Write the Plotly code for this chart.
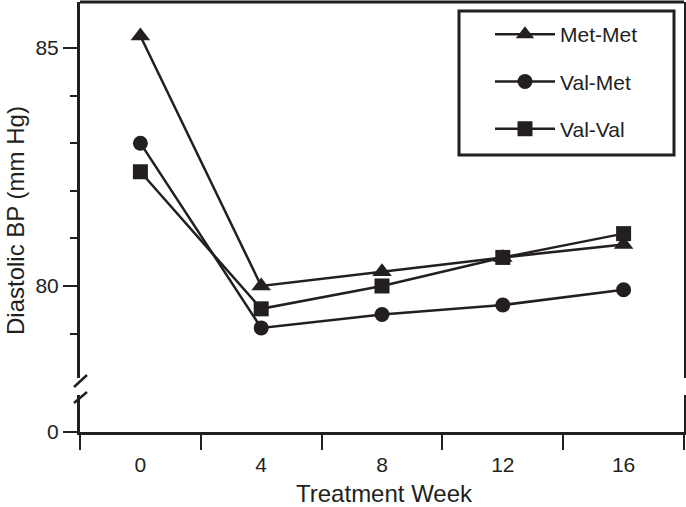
import plotly.graph_objects as go

weeks = [0, 4, 8, 12, 16]
met_met = [85.25, 80.0, 80.3, 80.6, 80.87]
val_met = [83.0, 79.12, 79.4, 79.6, 79.92]
val_val = [82.4, 79.52, 80.0, 80.6, 81.1]
series_names = ["Met-Met", "Val-Met", "Val-Val"]
x_tick_labels = ["0", "4", "8", "12", "16"]

INK = "#231f20"
FONT = "Liberation Sans, Arial, sans-serif"

W, H = 686, 507
ml, mr, mt, mb = 80, 2, 2, 75
pw, ph = W - ml - mr, H - mt - mb


def px_x(p):
    return (p - ml) / pw


def px_y(p):
    return (H - mb - p) / ph


fig = go.Figure()
# empty trace so the lower (broken-axis) subplot exists
fig.add_trace(go.Scatter(x=[], y=[], xaxis="x", yaxis="y", showlegend=False,
                         hoverinfo="skip"))
symbols = ["triangle-up", "circle", "square"]
sizes = [17, 15, 15]
for i, (name, vals) in enumerate(zip(series_names, [met_met, val_met, val_val])):
    fig.add_trace(go.Scatter(
        x=weeks, y=vals, name=name, mode="lines+markers",
        xaxis="x", yaxis="y2", legendgroup=name,
        line=dict(color=INK, width=2.5),
        marker=dict(symbol=symbols[i], size=sizes[i], color=INK),
    ))

upper_bottom = px_y(378)
lower_top = px_y(395)

fig.update_layout(
    width=W, height=H,
    margin=dict(l=ml, r=mr, t=mt, b=mb, autoexpand=False),
    paper_bgcolor="white", plot_bgcolor="white",
    font=dict(family=FONT, color=INK, size=21),
    showlegend=True,
    legend=dict(
        x=px_x(490), y=px_y(14), xanchor="left", yanchor="top",
        borderwidth=0, bgcolor="rgba(0,0,0,0)",
        font=dict(size=21, family=FONT, color=INK),
        itemwidth=60, tracegroupgap=17, traceorder="grouped",
    ),
    xaxis=dict(
        range=[-2, 18], tickmode="array", tickvals=weeks, ticktext=x_tick_labels,
        ticks="", showgrid=False, zeroline=False,
        showline=True, linecolor=INK, linewidth=3,
        anchor="y", ticklabelstandoff=12, automargin=False,
        tickfont=dict(size=21),
        minor=dict(tickmode="array", tickvals=[-2, 2, 6, 10, 14, 18],
                   ticks="outside", ticklen=15, tickwidth=2, tickcolor=INK),
    ),
    yaxis=dict(
        domain=[0, lower_top], range=[0, 1],
        tickmode="array", tickvals=[0], ticktext=["0"],
        ticks="outside", ticklen=14, tickwidth=2, tickcolor=INK,
        showgrid=False, zeroline=False, automargin=False,
        showline=True, linecolor=INK, linewidth=3, mirror=True,
        anchor="x", tickfont=dict(size=21),
    ),
    yaxis2=dict(
        domain=[upper_bottom, 1], range=[78.067, 85.966],
        tickmode="array", tickvals=[80, 85], ticktext=["80", "85"],
        ticks="outside", ticklen=14, tickwidth=2, tickcolor=INK,
        minor=dict(dtick=1, tick0=0, ticks="outside", ticklen=7, tickwidth=2, tickcolor=INK),
        showgrid=False, zeroline=False, automargin=False,
        showline=True, linecolor=INK, linewidth=3, mirror=True,
        anchor="x", tickfont=dict(size=21),
    ),
    annotations=[
        dict(text="Diastolic BP (mm Hg)", xref="paper", yref="paper",
             x=px_x(15), y=px_y(221), textangle=-90, showarrow=False,
             xanchor="center", yanchor="middle", font=dict(size=24, family=FONT, color=INK)),
        dict(text="Treatment Week", xref="paper", yref="paper",
             x=px_x(384), y=px_y(493), showarrow=False,
             xanchor="center", yanchor="middle", font=dict(size=24, family=FONT, color=INK)),
    ],
    shapes=[
        # top border
        dict(type="line", xref="paper", yref="paper", x0=0, x1=1, y0=1, y1=1,
             line=dict(color=INK, width=3)),
        # break marks on left axis
        dict(type="line", xref="paper", yref="paper", x0=px_x(74), y0=px_y(387),
             x1=px_x(87), y1=px_y(375), line=dict(color=INK, width=2.5)),
        dict(type="line", xref="paper", yref="paper", x0=px_x(74), y0=px_y(403),
             x1=px_x(87), y1=px_y(392), line=dict(color=INK, width=2.5)),
        # legend frame
        dict(type="rect", xref="paper", yref="paper", x0=px_x(459), x1=px_x(674),
             y0=px_y(155), y1=px_y(11), line=dict(color=INK, width=3)),
    ],
)

fig.write_html("out.html", post_script="document.body.style.margin='0';",
               config={"displayModeBar": False})
